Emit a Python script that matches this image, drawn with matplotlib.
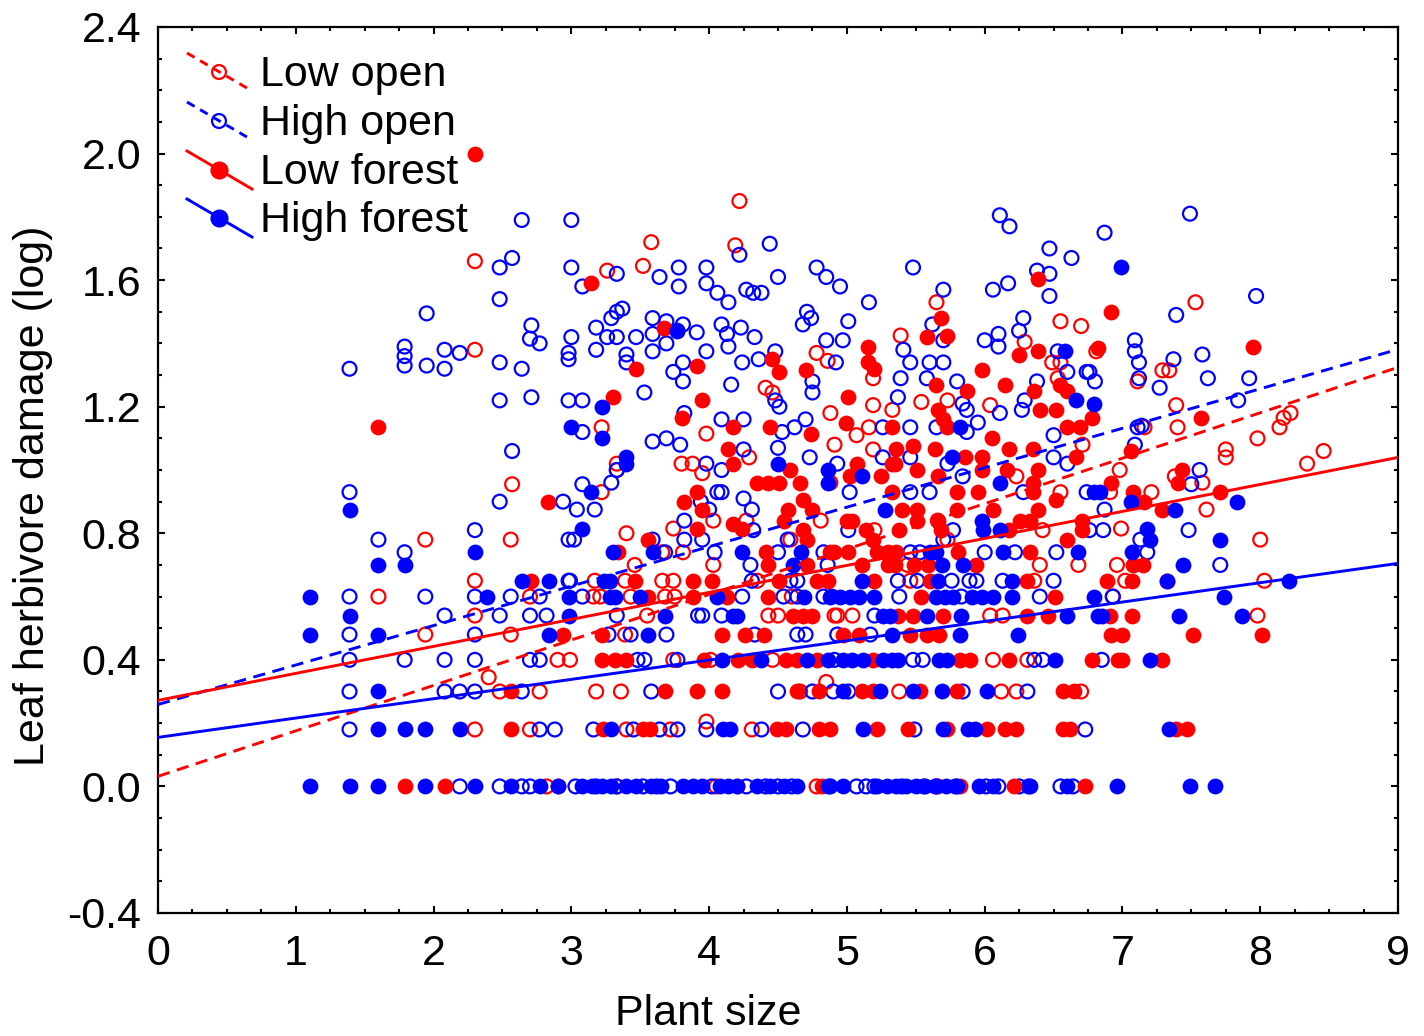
import numpy as np
import matplotlib
matplotlib.use("Agg")
import matplotlib.pyplot as plt
from matplotlib.ticker import MultipleLocator, FormatStrFormatter

plt.rcParams['font.family'] = ['Liberation Sans', 'DejaVu Sans']
plt.rcParams['axes.unicode_minus'] = False

# ---- data: plant size (x) vs log leaf damage (y) ----
# discrete damage levels are given as {level: [plant sizes]}, the rest as (x, y)

high_open_rows = {
    0.0: [2.19, 2.48, 2.64, 2.70, 3.03, 3.18, 3.33, 3.52, 3.62, 3.72, 4.02, 4.27, 4.41, 4.50, 4.60,
          4.88, 5.07, 5.14, 5.20, 5.40, 5.56, 5.65, 5.79, 6.01, 6.10, 6.25, 6.32, 6.55, 6.64],
    0.18: [1.39, 2.77, 2.88, 3.16, 3.45, 3.64, 3.77, 3.98, 4.38, 4.68, 5.49, 6.73],
    0.30: [1.39, 2.08, 2.19, 2.30, 2.64, 3.58, 4.50, 4.75, 4.90, 5.01, 5.84, 6.31],
    0.40: [1.39, 1.79, 2.08, 2.30, 2.70, 2.77, 3.48, 3.53, 3.77, 4.91, 5.48, 5.55, 6.36, 6.42, 6.85],
    0.48: [1.39, 2.30, 3.27, 3.43, 3.69, 4.33, 4.64, 4.70, 4.93, 5.17],
    0.54: [2.08, 2.48, 2.70, 2.82, 3.33, 3.92, 3.95, 4.09, 5.20],
    0.60: [1.39, 1.94, 2.30, 2.56, 2.77, 3.08, 4.24, 4.54, 4.64, 4.83, 4.89, 5.38, 5.83, 6.40, 6.93],
    0.65: [2.98, 2.99, 4.31, 4.59, 4.64, 5.37, 5.51, 5.76, 5.89, 5.94, 6.13, 6.50],
    0.70: [4.30, 4.86, 7.71],
    0.74: [1.79, 3.68, 4.04, 4.50, 4.83, 5.46, 5.53, 6.00, 6.22, 6.52, 7.18],
    0.78: [1.60, 2.98, 3.02, 3.59, 3.82, 3.95, 4.57, 5.70, 7.13],
    0.81: [2.30, 4.32, 5.01, 5.77, 6.76, 6.86, 7.48],
}
high_open_pts = [
    (3.04, 0.875), (3.17, 0.875), (3.82, 0.84), (4.00, 0.875), (4.31, 0.875), (6.87, 0.875),
    (1.39, 0.93), (2.48, 0.90), (2.94, 0.90), (3.08, 0.955), (3.29, 0.96), (3.94, 0.90), (4.06, 0.93),
    (4.09, 0.93), (5.02, 0.93), (5.46, 0.93), (5.60, 0.93), (6.28, 0.93), (6.74, 0.93), (4.25, 0.91),
    (7.50, 0.955), (5.84, 0.98), (3.33, 1.0), (3.98, 1.02), (4.09, 1.0), (6.60, 1.02), (5.73, 1.02),
    (4.93, 1.02), (7.56, 1.0),
    (3.59, 1.09), (3.69, 1.10), (3.79, 1.08), (4.25, 1.065), (4.50, 1.07), (4.73, 1.04), (5.26, 1.04),
    (5.46, 1.04), (7.09, 1.08), (6.50, 1.11), (6.50, 1.04),
    (2.57, 1.06), (3.08, 1.12), (3.82, 1.18), (4.09, 1.16), (4.25, 1.16), (4.70, 1.16), (4.62, 1.135),
    (4.53, 1.12), (5.26, 1.135), (5.46, 1.135), (5.65, 1.135), (5.87, 1.12), (5.95, 1.15), (7.11, 1.135),
    (7.14, 1.14), (6.29, 1.22), (6.27, 1.19), (6.11, 1.18),
    (2.48, 1.22), (2.71, 1.23), (2.98, 1.22), (3.08, 1.22), (3.53, 1.245), (3.81, 1.28), (4.16, 1.27),
    (4.48, 1.22), (4.51, 1.20), (4.75, 1.245), (4.75, 1.28), (5.37, 1.23), (5.39, 1.29), (5.58, 1.29),
    (5.80, 1.28), (5.84, 1.21), (5.87, 1.19), (6.38, 1.28), (6.60, 1.31), (6.76, 1.31), (6.80, 1.28),
    (7.12, 1.29), (7.27, 1.26), (7.62, 1.29), (7.92, 1.29), (7.84, 1.22),
    (1.39, 1.32), (1.79, 1.39), (1.79, 1.36), (1.79, 1.33), (1.95, 1.33), (2.08, 1.38), (2.08, 1.32),
    (2.19, 1.37), (2.48, 1.34), (2.64, 1.32), (2.98, 1.37), (2.98, 1.35), (3.00, 1.42), (3.18, 1.38),
    (3.40, 1.365), (3.40, 1.34), (3.59, 1.375), (3.74, 1.31), (3.81, 1.34), (3.98, 1.375), (4.14, 1.39),
    (4.24, 1.34), (4.36, 1.35), (4.48, 1.375), (4.92, 1.34), (5.41, 1.38), (5.46, 1.34), (5.60, 1.34),
    (5.70, 1.34), (6.10, 1.39), (6.00, 1.41), (6.53, 1.375), (6.74, 1.31), (7.09, 1.41), (7.09, 1.375),
    (7.12, 1.34), (7.37, 1.35), (7.58, 1.365),
    (1.95, 1.495), (2.71, 1.457), (2.70, 1.415), (2.77, 1.40), (3.18, 1.45), (3.26, 1.42), (3.33, 1.42),
    (3.37, 1.51), (3.33, 1.50), (3.29, 1.48), (3.47, 1.42), (3.59, 1.48), (3.59, 1.43), (3.69, 1.47),
    (3.69, 1.40), (3.77, 1.44), (3.81, 1.46), (3.91, 1.435), (4.09, 1.46), (4.13, 1.43), (4.23, 1.45),
    (4.33, 1.42), (4.71, 1.50), (4.74, 1.48), (4.68, 1.46), (4.85, 1.41), (5.01, 1.47), (4.97, 1.41),
    (5.62, 1.46), (5.70, 1.41), (6.10, 1.43), (6.28, 1.48), (6.25, 1.44), (7.39, 1.49),
    (2.48, 1.54), (3.08, 1.58), (3.33, 1.62), (3.64, 1.61), (3.78, 1.64), (3.78, 1.58), (3.98, 1.64),
    (3.98, 1.59), (4.06, 1.56), (4.14, 1.53), (4.27, 1.57), (4.32, 1.56), (4.38, 1.56), (4.50, 1.61),
    (4.78, 1.64), (4.85, 1.61), (4.95, 1.58), (5.16, 1.53), (5.70, 1.57), (6.06, 1.57), (6.17, 1.59),
    (6.47, 1.55), (7.97, 1.55),
    (2.48, 1.64), (2.57, 1.67), (2.64, 1.79), (3.00, 1.79), (3.00, 1.64), (4.22, 1.68), (4.44, 1.715),
    (5.48, 1.64), (6.11, 1.805), (6.18, 1.77), (6.47, 1.70), (6.63, 1.67), (6.87, 1.75), (7.49, 1.81),
    (6.38, 1.63), (6.47, 1.62),
]

high_forest_rows = {
    0.0: [1.10, 1.39, 1.60, 1.94, 2.30, 2.56, 2.77, 2.90, 3.08, 3.15, 3.22, 3.29, 3.40, 3.47, 3.58, 3.65,
          3.81, 3.88, 3.95, 4.08, 4.14, 4.20, 4.35, 4.44, 4.54, 4.64, 4.86, 4.97, 5.22, 5.29, 5.36, 5.43,
          5.50, 5.57, 5.64, 5.72, 5.80, 5.96, 6.06, 6.33, 6.60, 6.96, 7.49, 7.67],
    0.18: [1.60, 1.79, 1.94, 2.19, 3.29, 4.10, 4.15, 5.12, 5.70, 5.88, 5.93, 7.34],
    0.30: [1.60, 4.97, 5.24, 5.48, 5.69, 6.02],
    0.40: [4.09, 4.38, 4.71, 4.86, 4.97, 5.04, 5.12, 5.26, 5.33, 5.37, 5.67, 5.73, 6.51, 7.20],
    0.48: [1.10, 1.60, 2.84, 3.56, 5.33, 5.82, 6.24],
    0.54: [1.39, 2.98, 3.68, 4.17, 4.20, 5.26, 5.31, 5.58, 5.83, 6.60, 6.82, 6.85, 7.41, 7.87],
    0.60: [1.10, 2.39, 2.98, 3.28, 3.32, 3.50, 4.06, 4.69, 4.88, 4.95, 5.02, 5.09, 5.20, 5.65, 5.71,
           5.77, 5.91, 5.98, 6.06, 6.20, 6.79, 7.74],
    0.65: [2.64, 2.84, 3.24, 3.28, 5.11, 5.66, 6.20, 7.32, 8.21],
    0.70: [1.60, 1.79, 4.61, 5.69, 5.84, 7.44],
    0.74: [2.30, 3.30, 3.59, 4.24, 4.67, 5.60, 5.65, 6.13, 6.68, 7.07],
    0.78: [7.20, 7.71],
}
high_forest_pts = [
    (3.08, 0.815), (5.98, 0.84), (5.99, 0.81), (6.11, 0.81), (7.18, 0.815),
    (1.39, 0.875), (5.28, 0.875), (7.38, 0.875),
    (3.14, 0.93), (6.84, 0.93), (6.79, 0.93), (7.06, 0.90), (7.83, 0.90),
    (5.11, 0.98), (6.11, 0.96), (4.86, 0.96), (4.86, 1.0), (4.50, 1.02),
    (3.40, 1.04), (3.40, 1.02), (5.76, 1.04), (5.82, 1.135), (6.66, 1.22), (6.79, 1.21), (6.58, 1.375),
    (3.00, 1.135), (3.22, 1.10), (3.22, 1.20), (3.77, 1.44), (6.99, 1.64),
]

low_forest_rows = {
    0.0: [1.79, 2.08, 2.90, 4.20, 4.82, 5.82, 6.21, 6.73],
    0.18: [2.56, 3.23, 3.52, 3.57, 4.49, 4.56, 4.80, 4.88, 5.22, 5.44, 5.73, 6.02, 6.15, 6.23, 6.57,
           6.62, 7.39, 7.47],
    0.30: [2.56, 3.68, 3.91, 4.09, 4.64, 4.80, 5.11, 5.19, 5.53, 5.80, 6.57, 6.65],
    0.40: [3.22, 3.32, 3.40, 3.96, 4.21, 4.31, 4.56, 4.64, 4.78, 5.19, 5.82, 5.89, 6.18, 6.78, 6.97,
           7.00, 7.29],
    0.48: [2.94, 3.22, 4.09, 4.26, 4.40, 4.97, 5.09, 5.46, 5.58, 5.67, 6.92, 7.00, 7.51, 8.01],
    0.54: [4.61, 4.68, 4.75, 5.37, 5.48, 5.70, 6.31, 6.46, 6.91, 7.07],
    0.60: [3.56, 3.88, 4.13, 4.43, 5.54, 6.51],
    0.65: [2.71, 3.46, 3.88, 4.02, 4.51, 4.78, 4.86, 5.20, 5.60, 6.31, 6.89, 7.07, 7.32],
    0.70: [4.43, 4.71, 5.11, 5.30, 5.35, 5.49, 5.59, 5.94, 7.08, 7.15],
    0.74: [3.34, 4.41, 4.88, 4.91, 5.01, 5.22, 5.30, 5.36, 5.81, 6.33],
    0.78: [3.56, 4.71, 5.19, 6.60],
}
low_forest_pts = [
    (3.91, 0.815), (4.17, 0.83), (4.24, 0.815), (4.68, 0.81), (4.54, 0.84), (5.00, 0.84), (5.04, 0.84),
    (5.14, 0.81), (5.38, 0.81), (5.51, 0.84), (5.66, 0.84), (5.68, 0.81), (6.18, 0.81), (6.26, 0.84),
    (6.33, 0.84), (6.71, 0.84), (6.71, 0.81),
    (3.95, 0.875), (4.57, 0.875), (4.75, 0.875), (5.40, 0.875), (5.51, 0.875), (5.80, 0.875),
    (6.06, 0.875), (6.39, 0.875), (7.29, 0.875),
    (2.83, 0.90), (3.82, 0.90), (3.91, 0.93), (4.68, 0.905), (5.33, 0.93), (5.80, 0.93), (5.95, 0.93),
    (6.35, 0.93), (6.52, 0.905), (7.08, 0.93), (7.16, 0.90), (7.71, 0.93),
    (4.35, 0.96), (4.43, 0.96), (4.51, 0.96), (4.66, 0.96), (4.59, 1.0), (5.02, 0.98), (5.25, 0.98),
    (5.35, 1.02), (5.51, 1.0), (5.66, 0.98), (5.98, 1.0), (6.16, 1.0), (6.35, 0.96), (6.39, 1.0),
    (6.92, 0.96), (7.40, 0.96), (7.43, 1.0), (4.17, 1.02),
    (4.14, 1.065), (5.07, 1.02), (5.33, 1.02), (5.36, 1.065), (5.48, 1.075), (5.64, 1.065), (5.86, 1.04),
    (5.98, 1.04), (6.05, 1.10), (6.18, 1.065), (6.35, 1.065), (6.66, 1.04), (7.06, 1.06),
    (1.60, 1.135), (4.17, 1.135), (4.44, 1.135), (4.74, 1.115), (4.99, 1.15), (5.33, 1.135), (5.66, 1.19),
    (5.70, 1.16), (5.73, 1.135), (6.40, 1.19), (6.52, 1.19), (6.60, 1.135), (6.69, 1.135), (6.78, 1.165),
    (7.57, 1.165), (3.80, 1.165),
    (3.30, 1.23), (3.95, 1.22), (5.01, 1.23), (5.65, 1.27), (5.87, 1.25), (6.15, 1.27), (6.36, 1.25),
    (6.55, 1.27), (6.60, 1.25),
    (3.47, 1.32), (3.91, 1.33), (4.46, 1.35), (4.51, 1.31), (4.70, 1.315), (5.15, 1.39), (5.15, 1.34),
    (5.20, 1.32), (5.98, 1.315), (6.25, 1.365), (6.39, 1.375), (6.82, 1.385), (7.95, 1.39),
    (3.67, 1.45), (5.68, 1.48), (5.73, 1.425), (5.58, 1.42), (6.92, 1.50), (3.14, 1.59),
    (6.39, 1.605), (2.30, 2.0),
]

low_open_rows = {
    0.0: [2.82, 3.33, 4.05, 4.78, 5.66],
    0.18: [2.30, 2.70, 3.40, 3.72, 4.31],
    0.30: [2.48, 2.77, 3.18, 3.36, 4.66, 5.38, 6.12, 6.23, 6.70],
    0.40: [2.90, 2.99, 3.74, 4.01, 4.46, 6.06, 6.31],
    0.48: [1.94, 2.56, 3.39],
    0.54: [2.30, 3.55, 4.43, 4.50, 4.91, 4.93, 5.04, 6.04, 6.13, 7.98],
    0.60: [1.60, 2.70, 3.16, 3.21, 3.43, 3.68, 3.75, 4.60, 6.93],
    0.65: [2.30, 3.17, 3.39, 3.66, 3.74, 4.35, 5.46, 6.36, 7.02, 8.03],
    0.70: [3.46, 4.03, 5.44, 6.40, 6.68, 6.96],
    0.74: [3.66, 3.81],
    0.78: [1.94, 2.56, 4.59, 5.73, 8.00],
}
low_open_pts = [
    (2.40, 0.345), (4.85, 0.33), (3.98, 0.205),
    (3.40, 0.80), (3.74, 0.815), (4.03, 0.84), (4.27, 0.84), (4.81, 0.84), (5.20, 0.81), (5.66, 0.84),
    (6.42, 0.81), (6.99, 0.815),
    (3.22, 0.93), (6.55, 0.93), (6.91, 0.93), (7.21, 0.93), (7.61, 0.875), (7.58, 0.96), (2.57, 0.955),
    (3.33, 1.0), (4.88, 0.96), (6.23, 0.98), (6.98, 1.0), (7.38, 0.98), (7.75, 1.04), (8.34, 1.02),
    (3.95, 0.99),
    (3.33, 1.02), (3.80, 1.02), (3.88, 1.02), (4.29, 1.04), (5.19, 1.065), (7.75, 1.065), (7.98, 1.10),
    (8.46, 1.06), (6.71, 1.08), (4.91, 1.08), (5.07, 1.11),
    (3.22, 1.135), (3.98, 1.115), (5.16, 1.135), (7.16, 1.135), (7.40, 1.135), (8.14, 1.135),
    (8.17, 1.165), (8.22, 1.18), (4.88, 1.18), (7.39, 1.205),
    (4.41, 1.26), (4.46, 1.245), (5.19, 1.205), (5.33, 1.19), (5.54, 1.215), (5.73, 1.22), (6.04, 1.205),
    (6.53, 1.29), (7.11, 1.28), (7.29, 1.315), (7.34, 1.315), (5.19, 1.29),
    (2.30, 1.38), (4.78, 1.37), (4.86, 1.345), (6.49, 1.34), (6.55, 1.34), (6.81, 1.375), (6.29, 1.405),
    (5.39, 1.425),
    (5.65, 1.53), (6.55, 1.47), (6.70, 1.455), (7.53, 1.53), (3.26, 1.63), (3.52, 1.645),
    (2.30, 1.66), (3.58, 1.72), (4.22, 1.85), (4.19, 1.71),
]

# regression lines: Low open, High open, Low forest, High forest
fit_intercept = [0.032, 0.259, 0.272, 0.155]
fit_slope = [0.1436, 0.1247, 0.0853, 0.0611]

labels = ['Low open', 'High open', 'Low forest', 'High forest']


def unpack(rows, pts):
    xs = [x for lvl, row in rows.items() for x in row] + [p[0] for p in pts]
    ys = [lvl for lvl, row in rows.items() for x in row] + [p[1] for p in pts]
    return np.array(xs), np.array(ys)


series = [unpack(low_open_rows, low_open_pts),
          unpack(high_open_rows, high_open_pts),
          unpack(low_forest_rows, low_forest_pts),
          unpack(high_forest_rows, high_forest_pts)]
colors = ['#ff0000', '#0000ff', '#ff0000', '#0000ff']
filled = [False, False, True, True]
dashed = [True, True, False, False]

W, H = 1424, 1036
fig = plt.figure(figsize=(W / 100, H / 100), dpi=100)
ax = fig.add_axes([158 / W, 1 - 913 / H, 1240 / W, 886 / H])

for i, (xs, ys) in enumerate(series):
    if filled[i]:
        ax.scatter(xs, ys, s=130, c=colors[i], linewidths=0, zorder=3 + i)
    else:
        ax.scatter(xs, ys, s=100, facecolors='none', edgecolors=colors[i], linewidths=1.6, zorder=3 + i)

xx = np.array([0, 9])
for i in range(4):
    ls = (0, (4.2, 2.6)) if dashed[i] else '-'
    ax.plot(xx, fit_intercept[i] + fit_slope[i] * xx, color=colors[i], lw=2.1, ls=ls, zorder=10)

ax.set_xlim(0, 9)
ax.set_ylim(-0.4, 2.4)
ax.xaxis.set_major_locator(MultipleLocator(1))
ax.xaxis.set_minor_locator(MultipleLocator(0.25))
ax.yaxis.set_major_locator(MultipleLocator(0.4))
ax.yaxis.set_minor_locator(MultipleLocator(0.1))
ax.xaxis.set_major_formatter(FormatStrFormatter('%d'))
ax.yaxis.set_major_formatter(FormatStrFormatter('%.1f'))
ax.tick_params(which='both', direction='in', top=True, right=True, width=1.5, labelsize=31)
ax.tick_params(which='major', length=5)
ax.tick_params(which='minor', length=3)
ax.tick_params(axis='x', pad=15)
ax.tick_params(axis='y', pad=12)
for sp in ax.spines.values():
    sp.set_linewidth(1.6)

fig.text(33 / W, 1 - 496 / H, 'Leaf herbivore damage (log)', rotation=90,
         ha='center', va='center', fontsize=31)
fig.text(708 / W, 1 - 1025 / H, 'Plant size', ha='center', va='baseline', fontsize=31)


# hand-drawn legend (diagonal handles as in the original)
def px(xp, yp):
    return (xp - 158) / 1240, (913 - yp) / 886


for i, c in enumerate([72, 121, 170, 218]):
    (ax0, ay0), (ax1, ay1) = px(187, c - 19), px(252, c + 19)
    ls = (0, (3, 2.2)) if dashed[i] else '-'
    ax.plot([ax0, ax1], [ay0, ay1], color=colors[i], lw=2.1, ls=ls,
            transform=ax.transAxes, clip_on=False, zorder=12)
    mx, my = px(219, c)
    if filled[i]:
        ax.scatter([mx], [my], s=170, c=colors[i], linewidths=0, transform=ax.transAxes, zorder=13)
    else:
        ax.scatter([mx], [my], s=100, facecolors='none', edgecolors=colors[i], linewidths=1.6,
                   transform=ax.transAxes, zorder=13)
    tx, ty = px(260, c + 14)
    ax.text(tx, ty, labels[i], transform=ax.transAxes, fontsize=31, va='baseline', ha='left', zorder=13)

fig.savefig('out.png', dpi=100)
